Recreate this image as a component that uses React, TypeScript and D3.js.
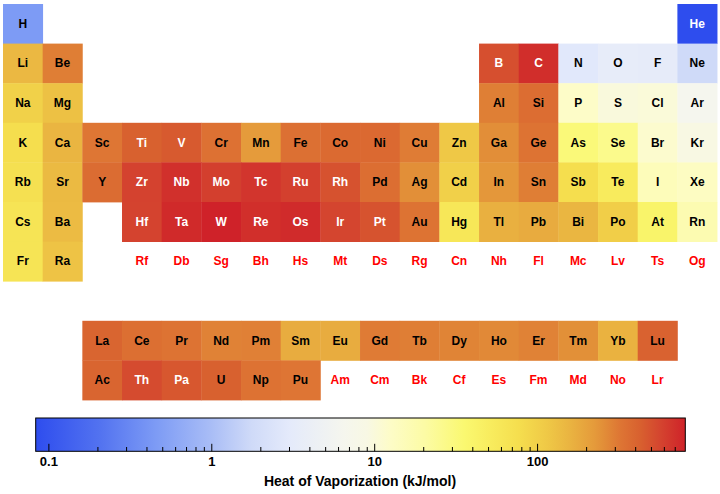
import React from "react";
import * as d3 from "d3";

const symbols = [
  "H","He","Li","Be","B","C","N","O","F","Ne",
  "Na","Mg","Al","Si","P","S","Cl","Ar","K","Ca",
  "Sc","Ti","V","Cr","Mn","Fe","Co","Ni","Cu","Zn",
  "Ga","Ge","As","Se","Br","Kr","Rb","Sr","Y","Zr",
  "Nb","Mo","Tc","Ru","Rh","Pd","Ag","Cd","In","Sn",
  "Sb","Te","I","Xe","Cs","Ba","La","Ce","Pr","Nd",
  "Pm","Sm","Eu","Gd","Tb","Dy","Ho","Er","Tm","Yb",
  "Lu","Hf","Ta","W","Re","Os","Ir","Pt","Au","Hg",
  "Tl","Pb","Bi","Po","At","Rn","Fr","Ra","Ac","Th",
  "Pa","U","Np","Pu","Am","Cm","Bk","Cf","Es","Fm",
  "Md","No","Lr","Rf","Db","Sg","Bh","Hs","Mt","Ds",
  "Rg","Cn","Nh","Fl","Mc","Lv","Ts","Og",
];

// Heat of vaporization, kJ/mol (null = no data)
const heatValues: (number | null)[] = [
  0.452, 0.083, 147.1, 297, 507, 715, 2.79, 3.41, 3.27, 1.75,
  97.42, 128, 293.4, 359, 12.4, 9.8, 10.2, 6.43, 76.9, 155,
  318, 425, 453, 339.5, 221, 347, 375, 378, 300.3, 115,
  254, 334, 32.4, 26.3, 11.5, 9.08, 72, 144, 363, 580,
  696.6, 598, 660, 595, 493, 357, 250.6, 100, 231.8, 296.1,
  77.14, 52.55, 15, 13.5, 63.9, 140, 400, 350, 330, 285,
  290, 175, 175, 305, 295, 280, 265, 285, 250, 160,
  415, 575, 743, 806.7, 704, 738, 563, 490, 330, 59.11,
  165, 177.7, 151, 102.9, 40, 17, 64, 125, 400, 530,
  470, 420, 335, 325, null, null, null, null, null, null,
  null, null, null, null, null, null, null, null, null, null,
  null, null, null, null, null, null, null, null,
];

const colorStopsT = [0, 0.1, 0.185, 0.27, 0.332, 0.39, 0.474, 0.51, 0.545, 0.6, 0.66, 0.7, 0.744, 0.788, 0.82, 0.859, 0.873, 0.899, 0.931, 0.963, 1];
const colorStops = ["#2e4dee", "#5373f0", "#7d9bf5", "#a9bdf6", "#cfdaf8", "#e4eafb", "#f5f6ee", "#f8f8e4", "#fdfcc8", "#fcfba4", "#faf870", "#f8ec5e", "#f5de4e", "#efc846", "#eab541", "#e59b3b", "#e28f38", "#de7634", "#d8602f", "#d4432f", "#cf2229"];

const majorTicks = [0.1, 1, 10, 100];
const domainMin = 0.083;
const domainMax = 806.7;

function position(z: number): [number, number] {
  if (z === 1) return [0, 0];
  if (z === 2) return [17, 0];
  if (z <= 4) return [z - 3, 1];
  if (z <= 10) return [z - 5 + 12, 1];
  if (z <= 12) return [z - 11, 2];
  if (z <= 18) return [z - 13 + 12, 2];
  if (z <= 36) return [z - 19, 3];
  if (z <= 54) return [z - 37, 4];
  if (z <= 56) return [z - 55, 5];
  if (z <= 71) return [z - 57 + 2, 8];
  if (z <= 86) return [z - 72 + 3, 5];
  if (z <= 88) return [z - 87, 6];
  if (z <= 103) return [z - 89 + 2, 9];
  return [z - 104 + 3, 6];
}

export default function App() {
  const W = 720, H = 494;
  const x0 = 3, cw = 39.67, y0 = 4, ch = 39.6;
  const tScale = d3.scaleLog().domain([domainMin, domainMax]).range([0, 1]);
  const cScale = d3.scaleLinear<string>().domain(colorStopsT).range(colorStops).interpolate(d3.interpolateRgb);
  const barL = 35.7, barR = 685.3, barT = 418, barB = 451.3;
  const bx = d3.scaleLog().domain([domainMin, domainMax]).range([barL, barR]);
  const minor: number[] = [];
  for (const d of [0.1, 1, 10, 100]) {
    for (let k = 2; k <= 9; k++) {
      const v = d * k;
      if (v > domainMin && v < domainMax * 0.99) minor.push(v);
    }
  }
  const font = "'Liberation Sans', Arial, Helvetica, sans-serif";
  return (
    <svg width={W} height={H} style={{ position: "absolute", left: 0, top: 0, background: "#fff" }}>
      <defs>
        <linearGradient id="cbar" x1="0" x2="1" y1="0" y2="0">
          {colorStopsT.map((t, i) => (
            <stop key={i} offset={t} stopColor={colorStops[i]} />
          ))}
        </linearGradient>
      </defs>
      {symbols.map((s, i) => {
        const z = i + 1;
        const [c, r] = position(z);
        const v = heatValues[i];
        const x = x0 + c * cw, y = y0 + r * ch;
        const fill = v == null ? "none" : cScale(tScale(v));
        const tc = v == null ? "#ff0000" : (v > 422 || v < 0.2 ? "#ffffff" : "#000000");
        return (
          <g key={s}>
            {v != null && <rect x={x} y={y} width={cw + 0.4} height={ch + 0.4} fill={fill} />}
            <text x={x + cw / 2} y={y + ch / 2 + 4} textAnchor="middle" fontFamily={font} fontWeight="bold" fontSize={12} fill={tc}>{s}</text>
          </g>
        );
      })}
      <rect x={barL} y={barT} width={barR - barL} height={barB - barT} fill="url(#cbar)" stroke="#000" strokeWidth={1} />
      {majorTicks.map((t) => (
        <g key={t}>
          <line x1={bx(t)} x2={bx(t)} y1={barB} y2={barB - 7.5} stroke="#000" strokeWidth={1} />
          <text x={bx(t)} y={466} textAnchor="middle" fontFamily={font} fontWeight="bold" fontSize={13} fill="#000">{String(t)}</text>
        </g>
      ))}
      {minor.map((t) => (
        <line key={t} x1={bx(t)} x2={bx(t)} y1={barB} y2={barB - 4.3} stroke="#000" strokeWidth={1} />
      ))}
      <text x={360} y={486} textAnchor="middle" fontFamily={font} fontWeight="bold" fontSize={14} fill="#000">Heat of Vaporization (kJ/mol)</text>
    </svg>
  );
}
